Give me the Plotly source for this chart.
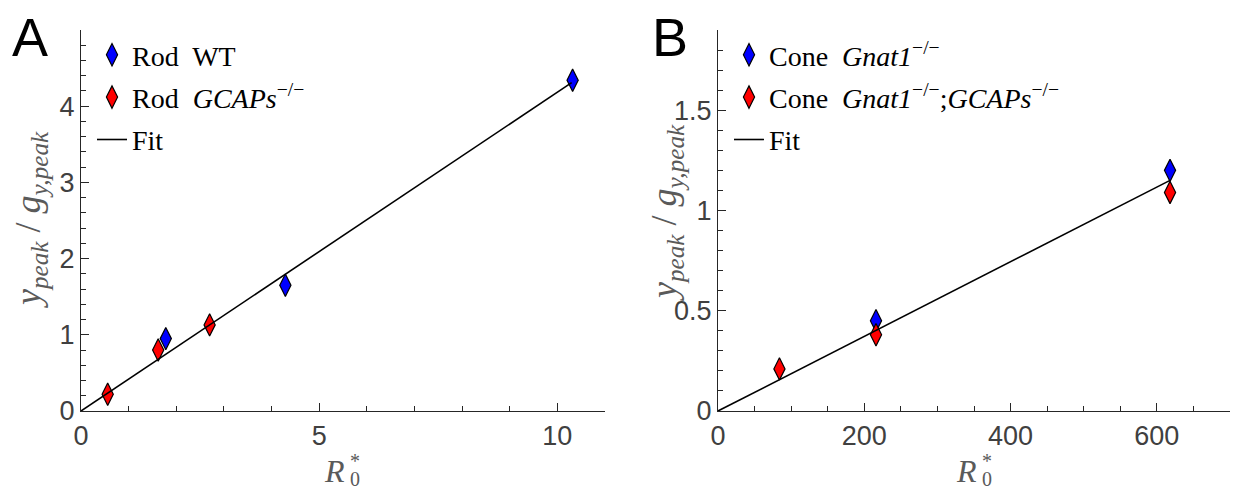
import plotly.graph_objects as go

# Panel A data
rod_wt_x = [10.32, 4.29, 1.78]
rod_wt_y = [4.34, 1.65, 0.95]
rod_gcaps_x = [0.56, 1.62, 2.70]
rod_gcaps_y = [0.22, 0.80, 1.13]
fitA_x = [0, 10.3]
fitA_y = [0, 4.31]

# Panel B data
cone_x = [216, 618]
cone_y = [0.45, 1.20]
cone_gcaps_x = [84, 216, 618]
cone_gcaps_y = [0.21, 0.38, 1.09]
fitB_x = [0, 618]
fitB_y = [0, 1.15]

OFF = 8  # page body margin
W, H = 1243 - 2 * OFF, 500 - 2 * OFF
SERIF = "Liberation Serif"
SANS = "Liberation Sans"
mk = dict(symbol="diamond-tall", size=16, line=dict(color="black", width=1.2))

fig = go.Figure()
fig.add_trace(go.Scatter(x=rod_wt_x, y=rod_wt_y, mode="markers", name="Rod  WT", legendgroup="a1",
                         marker=dict(color="#0000ff", **mk), xaxis="x", yaxis="y", legend="legend"))
fig.add_trace(go.Scatter(x=rod_gcaps_x, y=rod_gcaps_y, mode="markers", legendgroup="a2",
                         name="Rod  <i>GCAPs</i><sup>−/−</sup>",
                         marker=dict(color="#ff0000", **mk), xaxis="x", yaxis="y", legend="legend"))
fig.add_trace(go.Scatter(x=fitA_x, y=fitA_y, mode="lines", name="Fit", legendgroup="a3",
                         line=dict(color="black", width=1.6), xaxis="x", yaxis="y", legend="legend"))

fig.add_trace(go.Scatter(x=cone_x, y=cone_y, mode="markers", legendgroup="b1",
                         name="Cone  <i>Gnat1</i><sup>−/−</sup>",
                         marker=dict(color="#0000ff", **mk), xaxis="x2", yaxis="y2", legend="legend2"))
fig.add_trace(go.Scatter(x=cone_gcaps_x, y=cone_gcaps_y, mode="markers", legendgroup="b2",
                         name="Cone  <i>Gnat1</i><sup>−/−</sup>;<i>GCAPs</i><sup>−/−</sup>",
                         marker=dict(color="#ff0000", **mk), xaxis="x2", yaxis="y2", legend="legend2"))
fig.add_trace(go.Scatter(x=fitB_x, y=fitB_y, mode="lines", name="Fit", legendgroup="b3",
                         line=dict(color="black", width=1.6), xaxis="x2", yaxis="y2", legend="legend2"))

def px(v):
    return (v - OFF) / W

def py(v):
    return 1 - (v - OFF) / H

axis_common = dict(showline=True, linecolor="#262626", linewidth=1.2, showgrid=False,
                   zeroline=False, ticks="inside", ticklen=8, tickcolor="#262626",
                   tickfont=dict(family=SANS, size=27, color="#404040"),
                   mirror=False, automargin=False)

ytitle = "<i>y</i><sub><i>peak</i></sub> / <i>g</i><sub><i>y,peak</i></sub>"
GRAY = "#5a5a5a"
title_font = dict(family=SERIF, size=36, color=GRAY)
r_font = dict(family=SERIF, size=32, color=GRAY)
small_font = dict(family=SERIF, size=20, color=GRAY)

legend_common = dict(xanchor="left", yanchor="top", bgcolor="rgba(0,0,0,0)",
                     font=dict(family=SERIF, size=28, color="black"), tracegroupgap=3,
                     itemwidth=30)

def ann(text, x, y, font, angle=0, xanchor="center"):
    return dict(text=text, x=px(x), y=py(y), xref="paper", yref="paper", textangle=angle,
                xanchor=xanchor, yanchor="middle", showarrow=False, font=font)

def xtitle(xc):
    return [
        ann("<i>R</i>", xc + 4, 471, r_font, xanchor="right"),
        ann("*", xc + 5, 461, small_font, xanchor="left"),
        ann("0", xc + 5, 479, small_font, xanchor="left"),
    ]

fig.update_layout(
    width=W, height=H, margin=dict(l=0, r=0, t=0, b=0),
    plot_bgcolor="white", paper_bgcolor="white",
    showlegend=True,
    xaxis=dict(domain=[px(81), px(605)], range=[0, 11], tickvals=[0, 5, 10],
               minor=dict(dtick=1, ticks="inside", ticklen=5, tickcolor="#262626"),
               anchor="y", **axis_common),
    yaxis=dict(domain=[py(411), py(30)], range=[0, 5], tickvals=[0, 1, 2, 3, 4],
               minor=dict(dtick=0.2, ticks="inside", ticklen=5, tickcolor="#262626"),
               anchor="x", **axis_common),
    xaxis2=dict(domain=[px(718), px(1230)], range=[0, 700], tickvals=[0, 200, 400, 600],
                minor=dict(dtick=50, ticks="inside", ticklen=5, tickcolor="#262626"),
                anchor="y2", **axis_common),
    yaxis2=dict(domain=[py(411), py(30)], range=[0, 1.9], tickvals=[0, 0.5, 1, 1.5],
                ticktext=["0", "0.5", "1", "1.5"],
                minor=dict(dtick=0.1, ticks="inside", ticklen=5, tickcolor="#262626"),
                anchor="x2", **axis_common),
    legend=dict(x=px(92), y=py(30), **legend_common),
    legend2=dict(x=px(729), y=py(30), **legend_common),
    annotations=[
        ann("A", 30, 37, dict(family=SANS, size=54, color="black")),
        ann("B", 670, 37, dict(family=SANS, size=54, color="black")),
        ann(ytitle, 30, 220, title_font, -90),
        ann(ytitle, 666, 213, title_font, -90),
    ] + xtitle(343) + xtitle(975),
)

fig.write_html("out.html")
